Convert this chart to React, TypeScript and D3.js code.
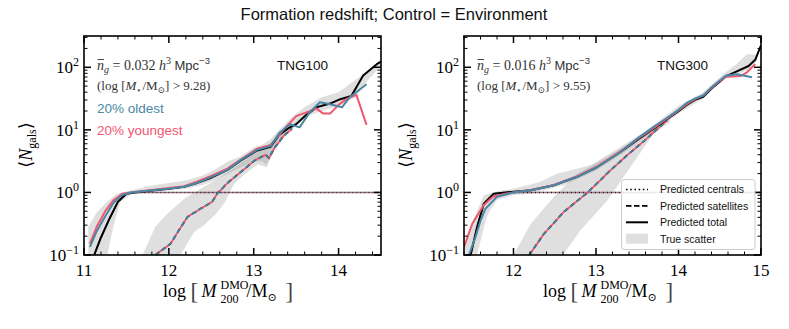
import React from 'react';
import * as d3 from 'd3';

const W = 789;
const H = 329;
const TITLE = 'Formation redshift; Control = Environment';

const xTicksL = [11, 12, 13, 14];
const xTicksR = [12, 13, 14, 15];
const yTickExp = [-1, 0, 1, 2];

// all pairs: [log10 M200, log10 <N>]
const totBlackL = [[11.12,-1.0],[11.2,-0.72],[11.3,-0.42],[11.4,-0.15],[11.5,-0.02],[11.6,0],[11.8,0.03],[12.0,0.06],[12.18,0.09],[12.33,0.15],[12.49,0.23],[12.69,0.36],[12.85,0.51],[13.04,0.67],[13.2,0.73],[13.3,0.92],[13.4,1.02],[13.5,1.09],[13.62,1.24],[13.74,1.36],[13.9,1.42],[14.02,1.49],[14.15,1.54],[14.29,1.87],[14.45,2.05],[14.5,2.09]];
const totRedL = [[11.07,-0.82],[11.15,-0.55],[11.25,-0.3],[11.35,-0.12],[11.45,-0.02],[11.55,0],[11.8,0.04],[12.0,0.07],[12.18,0.1],[12.33,0.17],[12.49,0.26],[12.69,0.38],[12.85,0.53],[13.04,0.7],[13.2,0.76],[13.3,0.92],[13.39,1.06],[13.5,1.22],[13.62,1.28],[13.74,1.34],[13.82,1.26],[13.9,1.26],[14.0,1.4],[14.1,1.5],[14.21,1.56],[14.33,1.08]];
const totBlueL = [[11.07,-0.87],[11.15,-0.62],[11.25,-0.38],[11.35,-0.16],[11.45,-0.04],[11.55,0],[11.8,0.035],[12.0,0.06],[12.18,0.09],[12.33,0.15],[12.49,0.24],[12.69,0.36],[12.85,0.52],[13.04,0.68],[13.2,0.74],[13.3,0.95],[13.43,1.09],[13.54,1.04],[13.66,1.28],[13.78,1.44],[13.9,1.41],[14.04,1.36],[14.13,1.52],[14.33,1.73]];
const satL = [[11.84,-1.0],[12.02,-0.82],[12.12,-0.6],[12.22,-0.39],[12.35,-0.28],[12.51,-0.15],[12.57,-0.02],[12.69,0.15],[12.85,0.33],[13.02,0.52],[13.14,0.6],[13.18,0.55],[13.24,0.7],[13.35,0.9],[13.45,1.02]];
const cenL = [[11.12,-1.0],[11.2,-0.72],[11.3,-0.42],[11.4,-0.15],[11.5,-0.02],[11.6,0],[14.5,0]];
const bandTotUpL = [[11.05,-0.55],[11.15,-0.32],[11.27,-0.15],[11.39,-0.02],[11.57,0.04],[11.8,0.11],[12.0,0.15],[12.2,0.19],[12.4,0.27],[12.55,0.37],[12.7,0.5],[12.85,0.58],[13.0,0.72],[13.1,0.76],[13.2,0.85],[13.3,1.0],[13.45,1.2],[13.6,1.36],[13.8,1.52],[14.0,1.6],[14.2,1.8],[14.35,1.95],[14.5,2.12]];
const bandTotLoL = [[11.05,-1.3],[11.2,-1.3],[11.27,-1.03],[11.35,-0.52],[11.43,-0.15],[11.57,-0.02],[11.8,0.0],[12.0,0.03],[12.2,0.06],[12.4,0.12],[12.55,0.2],[12.7,0.3],[12.85,0.4],[13.0,0.5],[13.1,0.5],[13.15,0.44],[13.2,0.6],[13.3,0.85],[13.45,1.0],[13.6,1.2],[13.8,1.3],[14.0,1.38],[14.2,1.52],[14.35,1.8],[14.5,2.02]];
const bandSatUpL = [[11.6,-1.3],[11.69,-1.0],[11.84,-0.55],[11.96,-0.37],[12.18,-0.1],[12.3,0.0],[12.45,0.12],[12.6,0.24],[12.75,0.38],[12.9,0.52],[13.0,0.62],[13.1,0.7],[13.2,0.78],[13.3,0.92],[13.45,1.1]];
const bandSatLoL = [[12.0,-1.3],[12.18,-0.9],[12.3,-0.63],[12.41,-0.53],[12.55,-0.35],[12.65,-0.18],[12.77,0.14],[12.9,0.3],[13.05,0.45],[13.15,0.4],[13.2,0.55],[13.3,0.82],[13.45,0.98]];

const totBlackR = [[11.48,-1.0],[11.56,-0.55],[11.64,-0.18],[11.76,-0.02],[11.9,0.0],[12.21,0.035],[12.49,0.115],[12.77,0.25],[13.02,0.41],[13.3,0.65],[13.5,0.84],[13.7,1.02],[13.86,1.17],[14.0,1.3],[14.1,1.4],[14.2,1.48],[14.3,1.53],[14.4,1.66],[14.5,1.77],[14.58,1.86],[14.7,1.93],[14.85,2.02],[14.93,2.12],[15.0,2.35]];
const totRedR = [[11.4,-0.87],[11.5,-0.5],[11.64,-0.2],[11.75,-0.07],[11.9,-0.02],[12.0,0.0],[12.21,0.04],[12.49,0.12],[12.77,0.26],[13.02,0.42],[13.3,0.66],[13.5,0.85],[13.7,1.03],[13.86,1.18],[14.0,1.31],[14.1,1.41],[14.2,1.49],[14.3,1.55],[14.4,1.67],[14.5,1.78],[14.58,1.85],[14.75,1.86],[14.83,1.92],[14.93,2.05]];
const totBlueR = [[11.46,-1.0],[11.54,-0.71],[11.6,-0.45],[11.66,-0.26],[11.8,-0.07],[12.0,0.0],[12.21,0.035],[12.49,0.115],[12.77,0.25],[13.02,0.41],[13.3,0.65],[13.5,0.86],[13.7,1.05],[13.86,1.19],[14.0,1.32],[14.1,1.43],[14.2,1.5],[14.3,1.55],[14.4,1.68],[14.5,1.79],[14.58,1.87],[14.71,1.89],[14.89,1.84]];
const satR = [[12.19,-1.0],[12.37,-0.66],[12.61,-0.31],[12.9,0.0],[13.18,0.36],[13.4,0.62],[13.58,0.82],[13.86,1.15]];
const cenR = [[11.48,-1.0],[11.56,-0.55],[11.64,-0.18],[11.76,-0.02],[11.9,0],[15.0,0]];
const bandTotUpR = [[11.4,-0.85],[11.52,-0.42],[11.64,-0.045],[11.8,0.02],[12.0,0.06],[12.3,0.16],[12.53,0.3],[12.94,0.44],[13.3,0.73],[13.6,0.98],[14.0,1.38],[14.3,1.6],[14.55,1.9],[14.7,2.05],[14.83,2.21],[14.95,2.2]];
const bandTotLoR = [[11.48,-1.3],[11.56,-0.98],[11.68,-0.37],[11.8,-0.12],[12.0,-0.04],[12.21,-0.02],[12.61,0.115],[13.0,0.35],[13.3,0.6],[13.6,0.88],[14.0,1.26],[14.3,1.5],[14.55,1.82],[14.7,1.88],[14.83,1.95],[14.95,2.1]];
const bandSatUpR = [[11.95,-1.3],[12.0,-1.0],[12.21,-0.5],[12.49,-0.07],[12.77,0.3],[13.14,0.57],[13.4,0.78],[13.7,1.05],[13.9,1.22]];
const bandSatLoR = [[12.55,-1.3],[12.6,-1.0],[12.81,-0.61],[13.14,-0.125],[13.42,0.41],[13.7,0.94],[13.9,1.12]];

const legendLabels = ['Predicted centrals', 'Predicted satellites', 'Predicted total', 'True scatter'];

const BLUE = '#4a87a5';
const RED = '#f2566f';
const SERIF = '"Liberation Serif", "DejaVu Serif", serif';
const SANS = '"Liberation Sans", Arial, sans-serif';

const Y0 = 36;
const Y1 = 255;
const yScale = d3.scaleLog().domain([0.1, Math.pow(10, 2.5)]).range([Y1, Y0]);

type Pt = number[];

function Panel(props: any) {
  const { id, x0, x1, xDomain, xTicks, tot, sat, cen, bands, nText, logText, sim, showColors, showLegend } = props;
  const x = d3.scaleLinear().domain(xDomain).range([x0, x1]);
  const line = d3.line<Pt>().x(d => x(d[0])).y(d => yScale(Math.pow(10, d[1])));
  const poly = (up: Pt[], lo: Pt[]) => line(up.concat(lo.slice().reverse())) + 'Z';

  const minorX: number[] = [];
  const start = Math.ceil(xDomain[0] * 5 - 1e-6);
  for (let k = start; k / 5 <= xDomain[1] + 1e-6; k++) {
    const v = k / 5;
    if (Math.abs(v - Math.round(v)) > 1e-6) minorX.push(v);
  }
  const minorY: number[] = [];
  yTickExp.forEach(e => { for (let k = 2; k <= 9; k++) { const v = k * Math.pow(10, e); if (v <= Math.pow(10, 2.5)) minorY.push(v); } });

  const cx = (x0 + x1) / 2;
  return (
    <g>
      <defs>
        <clipPath id={id}><rect x={x0} y={Y0} width={x1 - x0} height={Y1 - Y0} /></clipPath>
      </defs>
      <g clipPath={`url(#${id})`}>
        {bands.map((b: Pt[][], i: number) => (
          <path key={i} d={poly(b[0], b[1])} fill="#808080" fillOpacity={0.25} stroke="none" />
        ))}
        <path d={line(cen) || ''} fill="none" stroke="#000" strokeWidth={1.4} strokeDasharray="1.4,2.6" />
        <path d={line(cen) || ''} fill="none" stroke={RED} strokeWidth={1.4} strokeDasharray="1.4,2.6" strokeDashoffset={-1.3} />
        <path d={line(cen) || ''} fill="none" stroke={BLUE} strokeWidth={1.4} strokeDasharray="1.2,2.8" strokeDashoffset={-2.6} />
        <path d={line(sat) || ''} fill="none" stroke="#000" strokeWidth={1.8} strokeDasharray="5,3" />
        <path d={line(sat) || ''} fill="none" stroke={RED} strokeWidth={1.8} strokeDasharray="4,4" strokeDashoffset={-4} />
        <path d={line(sat) || ''} fill="none" stroke={BLUE} strokeWidth={1.8} strokeDasharray="4,4" />
        <path d={line(tot[0]) || ''} fill="none" stroke="#000" strokeWidth={2} strokeLinejoin="round" />
        <path d={line(tot[1]) || ''} fill="none" stroke={RED} strokeWidth={2} strokeLinejoin="round" />
        <path d={line(tot[2]) || ''} fill="none" stroke={BLUE} strokeWidth={2} strokeLinejoin="round" />
      </g>
      {xTicks.map((t: number) => (
        <g key={'xt' + t}>
          <line x1={x(t)} x2={x(t)} y1={Y1} y2={Y1 - 7} stroke="#000" strokeWidth={1.5} />
          <line x1={x(t)} x2={x(t)} y1={Y0} y2={Y0 + 7} stroke="#000" strokeWidth={1.5} />
          <text x={x(t)} y={Y1 + 21} textAnchor="middle" fontFamily={SERIF} fontSize={17}>{t}</text>
        </g>
      ))}
      {minorX.map(t => (
        <g key={'xm' + t}>
          <line x1={x(t)} x2={x(t)} y1={Y1} y2={Y1 - 3.5} stroke="#000" strokeWidth={1} />
          <line x1={x(t)} x2={x(t)} y1={Y0} y2={Y0 + 3.5} stroke="#000" strokeWidth={1} />
        </g>
      ))}
      {yTickExp.map(e => {
        const yy = yScale(Math.pow(10, e));
        return (
          <g key={'yt' + e}>
            <line x1={x0} x2={x0 + 7} y1={yy} y2={yy} stroke="#000" strokeWidth={1.5} />
            <line x1={x1} x2={x1 - 7} y1={yy} y2={yy} stroke="#000" strokeWidth={1.5} />
            <text x={x0 - 5} y={yy + 6} textAnchor="end" fontFamily={SERIF} fontSize={17}>
              <tspan>10</tspan><tspan dy={-7} fontSize={12}>{e < 0 ? '\u2212' + Math.abs(e) : e}</tspan>
            </text>
          </g>
        );
      })}
      {minorY.map(v => (
        <g key={'ym' + v}>
          <line x1={x0} x2={x0 + 3.5} y1={yScale(v)} y2={yScale(v)} stroke="#000" strokeWidth={1} />
          <line x1={x1} x2={x1 - 3.5} y1={yScale(v)} y2={yScale(v)} stroke="#000" strokeWidth={1} />
        </g>
      ))}
      <rect x={x0} y={Y0} width={x1 - x0} height={Y1 - Y0} fill="none" stroke="#000" strokeWidth={1.6} />

      <line x1={x0 + 13.5} x2={x0 + 20} y1={59.5} y2={59.5} stroke="#333" strokeWidth={0.9} />
      <text x={x0 + 13} y={70} fontFamily={SERIF} fontSize={14} fill="#333">
        <tspan fontStyle="italic">n</tspan>
        <tspan dy={3} fontSize={10} fontStyle="italic">g</tspan>
        <tspan dy={-3}> = {nText} </tspan>
        <tspan fontStyle="italic">h</tspan>
        <tspan dy={-6} fontSize={10}>3</tspan>
        <tspan dy={6} fontFamily={SANS} fontSize={13}> Mpc</tspan>
        <tspan dy={-6} fontFamily={SANS} fontSize={9.5}>{'\u2212'}3</tspan>
      </text>
      <text x={x0 + 13} y={90} fontFamily={SERIF} fontSize={13} fill="#333">
        <tspan>(log [</tspan>
        <tspan fontStyle="italic">M</tspan>
        <tspan dy={3} fontSize={9}>⋆</tspan>
        <tspan dy={-3}>/M</tspan>
        <tspan dy={3} fontSize={9}>⊙</tspan>
        <tspan dy={-3}>] &gt; {logText})</tspan>
      </text>
      <text x={x1 - 104} y={70} fontFamily={SANS} fontSize={13.5} fill="#111">{sim}</text>
      {showColors && (
        <g fontFamily={SANS} fontSize={13.5}>
          <text x={x0 + 13} y={113} fill={BLUE}>20% oldest</text>
          <text x={x0 + 13} y={134.5} fill={RED}>20% youngest</text>
        </g>
      )}
      {showLegend && (
        <g>
          <rect x={621.5} y={179.5} width={133.5} height={70} rx={3} fill="#fff" fillOpacity={0.85} stroke="#ccc" strokeWidth={1} />
          {legendLabels.map((lab, i) => {
            const yy = 189.5 + i * 16.4;
            return (
              <g key={lab}>
                {i === 0 && <line x1={626} x2={648} y1={yy} y2={yy} stroke="#000" strokeWidth={1.6} strokeDasharray="1.6,2.6" />}
                {i === 1 && <line x1={626} x2={648} y1={yy} y2={yy} stroke="#000" strokeWidth={1.8} strokeDasharray="5.5,2.5" />}
                {i === 2 && <line x1={626} x2={648} y1={yy} y2={yy} stroke="#000" strokeWidth={2} />}
                {i === 3 && <rect x={626} y={yy - 5} width={22} height={10} fill="#808080" fillOpacity={0.25} />}
                <text x={660} y={yy + 3.8} fontFamily={SANS} fontSize={10.5} fill="#111">{lab}</text>
              </g>
            );
          })}
        </g>
      )}

      <text transform={`translate(${x0 - 52},145) rotate(-90)`} textAnchor="middle" fontFamily={SERIF} fontSize={18}>
        <tspan>⟨</tspan><tspan fontStyle="italic">N</tspan><tspan dy={4} fontSize={12}>gals</tspan><tspan dy={-4}>⟩</tspan>
      </text>
      <g fontFamily={SERIF} fill="#000">
        <text x={cx - 69.5} y={297} fontSize={18}>log</text>
        <text x={cx - 42} y={299} fontSize={23} fill="#444">[</text>
        <text x={cx - 31} y={297} fontSize={18} fontStyle="italic">M</text>
        <text x={cx - 12} y={289} fontSize={12}>DMO</text>
        <text x={cx - 12} y={303} fontSize={12}>200</text>
        <text x={cx + 14} y={297} fontSize={18}>/M</text>
        <text x={cx + 35} y={301} fontSize={11} fontFamily='"DejaVu Serif", serif'>⊙</text>
        <text x={cx + 53} y={299} fontSize={23} fill="#444">]</text>
      </g>
    </g>
  );
}

export default function App() {
  return (
    <svg width={W} height={H} style={{ position: 'fixed', left: 0, top: 0, background: '#fff' }}>
      <rect width={W} height={H} fill="#fff" />
      <text x={394} y={20} textAnchor="middle" fontFamily={SANS} fontSize={16.5} fill="#111">{TITLE}</text>
      <Panel id="clipL" x0={84} x1={381} xDomain={[11, 14.5]} xTicks={xTicksL}
        tot={[totBlackL, totRedL, totBlueL]} sat={satL} cen={cenL}
        bands={[[bandTotUpL, bandTotLoL], [bandSatUpL, bandSatLoL]]}
        nText="0.032" logText="9.28" sim="TNG100" showColors={true} showLegend={false} />
      <Panel id="clipR" x0={464} x1={761} xDomain={[11.4, 15]} xTicks={xTicksR}
        tot={[totBlackR, totRedR, totBlueR]} sat={satR} cen={cenR}
        bands={[[bandTotUpR, bandTotLoR], [bandSatUpR, bandSatLoR]]}
        nText="0.016" logText="9.55" sim="TNG300" showColors={false} showLegend={true} />
    </svg>
  );
}
